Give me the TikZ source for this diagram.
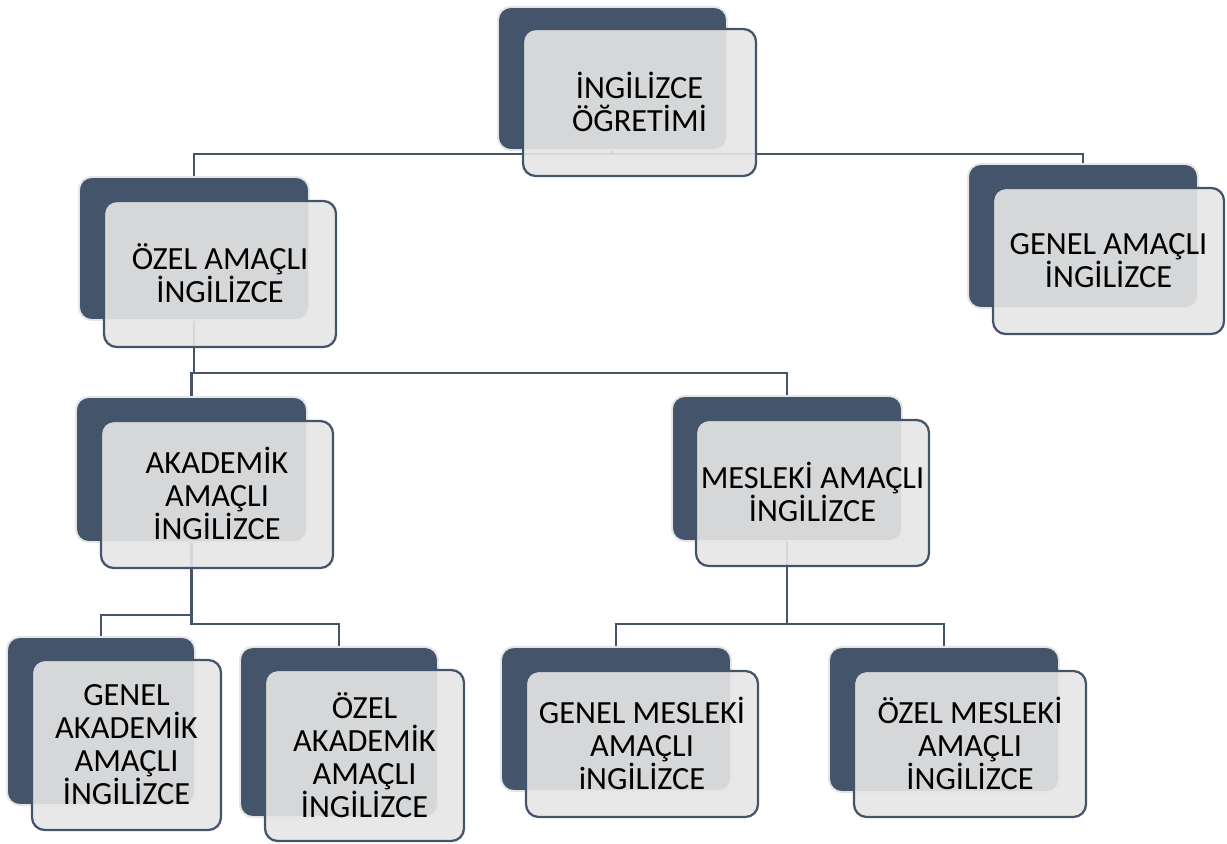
\documentclass[tikz,border=0pt]{standalone}
\usepackage{fontspec}
\setmainfont{Carlito}
\usetikzlibrary{fit, backgrounds}
\definecolor{slate}{HTML}{44546A}
\definecolor{paper}{HTML}{E6E6E6}

\begin{document}
\begin{tikzpicture}[x=0.025cm, y=-0.025cm,
  back/.style={rounded corners=9pt, fill=slate, draw=black!10, line width=1.4pt, inner sep=0pt},
  front/.style={rounded corners=9pt, fill=paper, fill opacity=0.9,
    draw=slate, line width=1.6pt, inner sep=0pt},
  caption/.style={align=center, inner sep=0pt, font=\fontsize{23}{23.4}\selectfont},
  link/.style={draw=slate, line width=1.8pt}]
  \useasboundingbox (0,0) rectangle (1227,843);

  % top level
  \node[back, fit={(498,7) (727,150)}] (ogretimB) {};
  \node[front, fit={(523,29) (756,176)}] (ogretim) {};
  \node[caption] (ogretimT) at ([yshift=0.5pt]ogretim.center) {İNGİLİZCE\\ÖĞRETİMİ};

  % second level
  \node[back, fit={(79,177) (309,320)}] (ozelB) {};
  \node[front, fit={(104,201) (336,347)}] (ozel) {};
  \node[caption] (ozelT) at ([yshift=0.5pt]ozel.center) {ÖZEL AMAÇLI\\İNGİLİZCE};
  \node[back, fit={(968,164) (1198,308)}] (genelB) {};
  \node[front, fit={(993,188) (1224,334)}] (genel) {};
  \node[caption] (genelT) at ([yshift=0.5pt]genel.center) {GENEL AMAÇLI\\İNGİLİZCE};

  % third level
  \node[back, fit={(76,397) (307,542)}] (akadB) {};
  \node[front, fit={(101,421) (333,568)}] (akad) {};
  \node[caption] (akadT) at ([yshift=0.5pt]akad.center) {AKADEMİK\\AMAÇLI\\İNGİLİZCE};
  \node[back, fit={(672,396) (902,541)}] (meslB) {};
  \node[front, fit={(696,420) (929,566)}] (mesl) {};
  \node[caption] (meslT) at ([yshift=0.5pt]mesl.center) {MESLEKİ AMAÇLI\\İNGİLİZCE};

  % bottom level
  \node[back, fit={(7,637) (195,805)}] (genakB) {};
  \node[front, fit={(32,660) (221,830)}] (genak) {};
  \node[caption] (genakT) at ([yshift=0.5pt]genak.center) {GENEL\\AKADEMİK\\AMAÇLI\\İNGİLİZCE};
  \node[back, fit={(240,647) (438,817)}] (ozakB) {};
  \node[front, fit={(265,670) (464,841)}] (ozak) {};
  \node[caption] (ozakT) at ([yshift=0.5pt]ozak.center) {ÖZEL\\AKADEMİK\\AMAÇLI\\İNGİLİZCE};
  \node[back, fit={(501,647) (731,791)}] (genmeB) {};
  \node[front, fit={(526,671) (758,817)}] (genme) {};
  \node[caption] (genmeT) at ([yshift=0.5pt]genme.center) {GENEL MESLEKİ\\AMAÇLI\\iNGİLİZCE};
  \node[back, fit={(829,647) (1059,792)}] (ozmeB) {};
  \node[front, fit={(854,671) (1086,817)}] (ozme) {};
  \node[caption] (ozmeT) at ([yshift=0.5pt]ozme.center) {ÖZEL MESLEKİ\\AMAÇLI\\İNGİLİZCE};

  % connectors
  \coordinate (bus0) at (0,154);
  \coordinate (bus1) at (0,373);
  \coordinate (bus2) at (0,615);
  \coordinate (bus3) at (0,624);
  \begin{scope}[on background layer]
    \draw[link] (ogretimB.south) -- (ogretimB.south |- bus0) -| (ozelB.north);
    \draw[link] (ogretimB.south) -- (ogretimB.south |- bus0) -| (genelB.north);
    \draw[link] (ozelB.south) -- (ozelB.south |- bus1) -| (akadB.north);
    \draw[link] (ozelB.south) -- (ozelB.south |- bus1) -| (meslB.north);
    \draw[link] (akadB.south) -- (akadB.south |- bus2) -| (genakB.north);
    \draw[link] (akadB.south) -- (akadB.south |- bus3) -| (ozakB.north);
    \draw[link] (meslB.south) -- (meslB.south |- bus3) -| (genmeB.north);
    \draw[link] (meslB.south) -- (meslB.south |- bus3) -| (ozmeB.north);
  \end{scope}
\end{tikzpicture}
\end{document}
